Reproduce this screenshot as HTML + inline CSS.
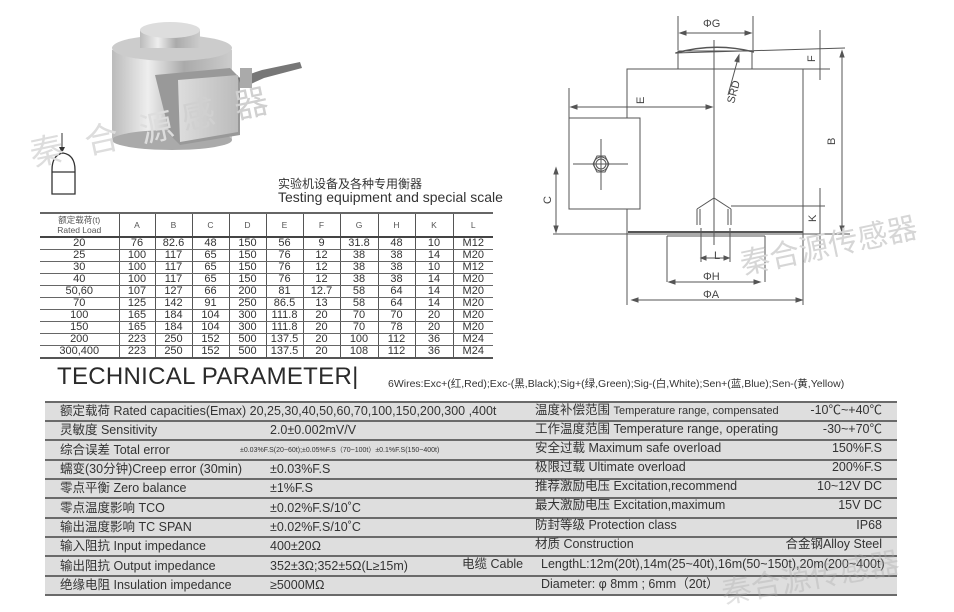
<!DOCTYPE html>
<html><head><meta charset="utf-8"><style>
*{margin:0;padding:0;box-sizing:border-box}
body{width:954px;height:599px;background:#fff;position:relative;overflow:hidden;font-family:"Liberation Sans","Noto Sans CJK SC",sans-serif;color:#333}
.a{position:absolute;white-space:nowrap}
table.d{position:absolute;left:40px;top:212px;width:453px;border-collapse:collapse;font-size:11px;color:#333}
table.d td{border-left:1px solid #555;text-align:center;height:11.8px;line-height:11px;padding:0;border-bottom:1px solid #666}
table.d tr td:first-child{border-left:none}
table.d tr.h td{height:24px;font-size:8.5px;color:#555;border-bottom:2px solid #444;line-height:10px}
table.d{border-top:2px solid #666;border-bottom:2px solid #555}
.pt{position:absolute;left:45px;top:402px;width:852px;height:193px;background:#dedede}
.ln{position:absolute;left:45px;width:852px;height:2px;background:#6a6a6a}
.r{position:absolute;font-size:12.5px;color:#333;white-space:nowrap;line-height:17px;height:17px}
.wm{position:absolute;color:#ddd;font-family:"Noto Sans CJK SC",sans-serif;white-space:nowrap;line-height:1}
</style></head><body>

<svg class="a" style="left:0;top:0" width="330" height="200">
<defs>
<linearGradient id="g1" x1="0" x2="1"><stop offset="0" stop-color="#bbb"/><stop offset=".3" stop-color="#eee"/><stop offset=".6" stop-color="#aaa"/><stop offset="1" stop-color="#ccc"/></linearGradient>
<linearGradient id="g2" x1="0" x2="1"><stop offset="0" stop-color="#ddd"/><stop offset="1" stop-color="#bbb"/></linearGradient>
</defs>
<rect x="112" y="50" width="120" height="90" fill="url(#g1)"/>
<ellipse cx="172" cy="140" rx="60" ry="10" fill="#aaa"/>
<ellipse cx="172" cy="48" rx="60" ry="13" fill="#ccc"/>
<rect x="140" y="30" width="60" height="18" fill="url(#g1)"/>
<ellipse cx="170" cy="30" rx="30" ry="8" fill="#ddd"/>
<path d="M155 75 L230 68 L240 78 L240 135 L180 145 L170 135Z" fill="#999"/>
<path d="M178 80 L238 75 L238 132 L180 142Z" fill="url(#g2)"/>
<path d="M238 78 L262 70 L300 62 L302 68 L264 78 L242 88Z" fill="#777"/>
<rect x="240" y="68" width="12" height="20" fill="#aaa"/>
<path d="M62 133 L62 150" stroke="#333"/><path d="M59 147 L62 153 L65 147Z" fill="#333"/>
<path d="M52 194 L52 170 Q52 155 63 153 Q75 155 75 170 L75 194Z" fill="none" stroke="#333" stroke-width="1.3"/>
<line x1="52" y1="172" x2="75" y2="172" stroke="#333" stroke-width="1.3"/>
</svg>

<div class="wm" style="left:28px;top:118px;font-size:34px;transform:rotate(-12deg);letter-spacing:22px">秦合源</div>
<div class="wm" style="left:180px;top:88px;font-size:34px;transform:rotate(-12deg);letter-spacing:20px;color:#d0d0d0">感器</div>

<div class="a" style="left:278px;top:177px;font-size:12px;line-height:13px;color:#333;font-family:'Noto Sans CJK SC',sans-serif">实验机设备及各种专用衡器</div>
<div class="a" style="left:278px;top:190px;font-size:14px;line-height:14px;color:#333">Testing equipment and special scale</div>

<table class="d">
<colgroup><col style="width:79px"><col style="width:36px"><col style="width:37px"><col style="width:37px"><col style="width:37px"><col style="width:37px"><col style="width:37px"><col style="width:38px"><col style="width:37px"><col style="width:38px"><col style="width:40px"></colgroup>
<tr class="h"><td>额定载荷(t)<br>Rated Load</td><td>A</td><td>B</td><td>C</td><td>D</td><td>E</td><td>F</td><td>G</td><td>H</td><td>K</td><td>L</td></tr>
<tr><td>20</td><td>76</td><td>82.6</td><td>48</td><td>150</td><td>56</td><td>9</td><td>31.8</td><td>48</td><td>10</td><td>M12</td></tr>
<tr><td>25</td><td>100</td><td>117</td><td>65</td><td>150</td><td>76</td><td>12</td><td>38</td><td>38</td><td>14</td><td>M20</td></tr>
<tr><td>30</td><td>100</td><td>117</td><td>65</td><td>150</td><td>76</td><td>12</td><td>38</td><td>38</td><td>10</td><td>M12</td></tr>
<tr><td>40</td><td>100</td><td>117</td><td>65</td><td>150</td><td>76</td><td>12</td><td>38</td><td>38</td><td>14</td><td>M20</td></tr>
<tr><td>50,60</td><td>107</td><td>127</td><td>66</td><td>200</td><td>81</td><td>12.7</td><td>58</td><td>64</td><td>14</td><td>M20</td></tr>
<tr><td>70</td><td>125</td><td>142</td><td>91</td><td>250</td><td>86.5</td><td>13</td><td>58</td><td>64</td><td>14</td><td>M20</td></tr>
<tr><td>100</td><td>165</td><td>184</td><td>104</td><td>300</td><td>111.8</td><td>20</td><td>70</td><td>70</td><td>20</td><td>M20</td></tr>
<tr><td>150</td><td>165</td><td>184</td><td>104</td><td>300</td><td>111.8</td><td>20</td><td>70</td><td>78</td><td>20</td><td>M20</td></tr>
<tr><td>200</td><td>223</td><td>250</td><td>152</td><td>500</td><td>137.5</td><td>20</td><td>100</td><td>112</td><td>36</td><td>M24</td></tr>
<tr><td>300,400</td><td>223</td><td>250</td><td>152</td><td>500</td><td>137.5</td><td>20</td><td>108</td><td>112</td><td>36</td><td>M24</td></tr>
</table>

<svg class="a" style="left:520px;top:0" width="434" height="320" fill="none" stroke="#555" stroke-width="1">
<g font-family="Liberation Sans" font-size="11" fill="#444" stroke="none">
<text x="183" y="27">ΦG</text>
<text x="183" y="280">ΦH</text>
<text x="183" y="298">ΦA</text>
<text x="194" y="259">L</text>
<text transform="translate(124,104) rotate(-90)">E</text>
<text transform="translate(295,62) rotate(-90)">F</text>
<text transform="translate(315,145) rotate(-90)">B</text>
<text transform="translate(296,222) rotate(-90)">K</text>
<text transform="translate(31,204) rotate(-90)">C</text>
<text transform="translate(214,104) rotate(-75)">SRD</text>
</g>
<line x1="158" y1="16" x2="158" y2="50"/><line x1="233" y1="16" x2="233" y2="50"/>
<line x1="160" y1="33" x2="231" y2="33"/>
<path d="M160 33l6-2v4zM231 33l-6-2v4z" fill="#555"/>
<rect x="158" y="51" width="74" height="18"/>
<path d="M156 53 Q195 42 234 52" stroke-width="1.5"/>
<line x1="155" y1="53" x2="325" y2="48"/>
<rect x="107" y="69" width="176" height="165"/>
<line x1="194" y1="40" x2="194" y2="245"/>
<line x1="208" y1="95" x2="219" y2="55"/><path d="M219 55l-4 6 4 1z" fill="#555"/>
<line x1="49" y1="88" x2="49" y2="118"/>
<line x1="51" y1="107" x2="192" y2="107"/>
<path d="M51 107l6-2v4zM192 107l-6-2v4z" fill="#555"/>
<rect x="49" y="118" width="71" height="91" fill="#fff"/>
<polygon points="73,164 77,156 85,156 89,164 85,172 77,172"/>
<circle cx="81" cy="164" r="7"/><circle cx="81" cy="164" r="5"/>
<line x1="53" y1="164" x2="108" y2="164"/><line x1="81" y1="139" x2="81" y2="190"/>
<line x1="36" y1="168" x2="36" y2="232"/>
<path d="M36 168l-2 6h4zM36 232l-2-6h4z" fill="#555"/>
<line x1="33" y1="234" x2="330" y2="234"/>
<line x1="108" y1="232" x2="283" y2="232" stroke-width="2"/>
<line x1="147" y1="236" x2="245" y2="236"/>
<line x1="147" y1="236" x2="147" y2="282"/><line x1="245" y1="236" x2="245" y2="282"/>
<line x1="149" y1="282" x2="240" y2="282"/><path d="M149 282l6-2v4zM240 282l-6-2v4z" fill="#555"/>
<line x1="107" y1="234" x2="107" y2="305"/><line x1="283" y1="234" x2="283" y2="305"/>
<line x1="112" y1="300" x2="282" y2="300"/><path d="M112 300l6-2v4zM282 300l-6-2v4z" fill="#555"/>
<path d="M177 209 L194 198 L211 209"/>
<line x1="177" y1="209" x2="177" y2="225"/><line x1="180" y1="209" x2="180" y2="225"/>
<line x1="208" y1="209" x2="208" y2="225"/><line x1="211" y1="209" x2="211" y2="225"/>
<line x1="181" y1="228" x2="181" y2="262"/><line x1="210" y1="228" x2="210" y2="262"/>
<line x1="181" y1="258" x2="209" y2="258"/><path d="M181 258l5-2v4zM209 258l-5-2v4z" fill="#555"/>
<line x1="211" y1="206" x2="305" y2="206"/>
<line x1="283" y1="69" x2="310" y2="69"/>
<line x1="300" y1="30" x2="300" y2="80"/>
<line x1="300" y1="188" x2="300" y2="248"/>
<line x1="322" y1="51" x2="322" y2="232"/>
<path d="M322 51l-2 6h4zM322 232l-2-6h4z" fill="#555"/>
</svg>
<div class="wm" style="left:738px;top:228px;font-size:30px;transform:rotate(-12deg);color:#d6d6d6">秦合源传感器</div>

<div class="a" style="left:57px;top:364px;font-size:24px;line-height:26px;color:#2a2a2a;letter-spacing:0.3px">TECHNICAL PARAMETER|</div>
<div class="a" style="left:388px;top:378px;font-size:10.5px;line-height:12px;color:#333">6Wires:Exc+(红,Red);Exc-(黑,Black);Sig+(绿,Green);Sig-(白,White);Sen+(蓝,Blue);Sen-(黄,Yellow)</div>

<div class="pt"></div>
<div class="ln" style="top:401px"></div><div class="ln" style="top:420px"></div><div class="ln" style="top:439px"></div><div class="ln" style="top:459px"></div><div class="ln" style="top:478px"></div><div class="ln" style="top:497px"></div><div class="ln" style="top:517px"></div><div class="ln" style="top:536px"></div><div class="ln" style="top:555px"></div><div class="ln" style="top:575px"></div><div class="ln" style="top:594px"></div>

<div class="r" style="left:60px;top:403px">额定载荷 Rated capacities(Emax) 20,25,30,40,50,60,70,100,150,200,300 ,400t</div>
<div class="r" style="left:60px;top:422px">灵敏度 Sensitivity</div><div class="r" style="left:270px;top:422px">2.0±0.002mV/V</div>
<div class="r" style="left:60px;top:442px">综合误差 Total error</div><div class="r" style="left:240px;top:442px;font-size:7px">±0.03%F.S(20~60t);±0.05%F.S（70~100t）±0.1%F.S(150~400t)</div>
<div class="r" style="left:60px;top:461px">蠕变(30分钟)Creep error (30min)</div><div class="r" style="left:270px;top:461px">±0.03%F.S</div>
<div class="r" style="left:60px;top:480px">零点平衡 Zero balance</div><div class="r" style="left:270px;top:480px">±1%F.S</div>
<div class="r" style="left:60px;top:500px">零点温度影响 TCO</div><div class="r" style="left:270px;top:500px">±0.02%F.S/10˚C</div>
<div class="r" style="left:60px;top:519px">输出温度影响 TC SPAN</div><div class="r" style="left:270px;top:519px">±0.02%F.S/10˚C</div>
<div class="r" style="left:60px;top:538px">输入阻抗 Input  impedance</div><div class="r" style="left:270px;top:538px">400±20Ω</div>
<div class="r" style="left:60px;top:558px">输出阻抗 Output  impedance</div><div class="r" style="left:270px;top:558px">352±3Ω;352±5Ω(L≥15m)</div><div class="r" style="left:462px;top:556px">电缆 Cable</div>
<div class="r" style="left:60px;top:577px">绝缘电阻 Insulation impedance</div><div class="r" style="left:270px;top:577px">≥5000MΩ</div>

<div class="r" style="left:535px;top:402px">温度补偿范围 <span style="font-size:11px">Temperature range, compensated</span></div><div class="r" style="right:72px;top:402px">-10℃~+40℃</div>
<div class="r" style="left:535px;top:421px">工作温度范围 Temperature range, operating</div><div class="r" style="right:72px;top:421px">-30~+70℃</div>
<div class="r" style="left:535px;top:440px">安全过载  Maximum safe overload</div><div class="r" style="right:72px;top:440px">150%F.S</div>
<div class="r" style="left:535px;top:459px">极限过载  Ultimate overload</div><div class="r" style="right:72px;top:459px">200%F.S</div>
<div class="r" style="left:535px;top:478px">推荐激励电压 Excitation,recommend</div><div class="r" style="right:72px;top:478px">10~12V DC</div>
<div class="r" style="left:535px;top:497px">最大激励电压 Excitation,maximum</div><div class="r" style="right:72px;top:497px">15V DC</div>
<div class="r" style="left:535px;top:517px">防封等级  Protection class</div><div class="r" style="right:72px;top:517px">IP68</div>
<div class="r" style="left:535px;top:536px">材质  Construction</div><div class="r" style="right:72px;top:536px">合金钢Alloy Steel</div>
<div class="r" style="left:541px;top:556px">LengthL:12m(20t),14m(25~40t),16m(50~150t),20m(200~400t)</div>
<div class="r" style="left:541px;top:576px">Diameter: φ 8mm ; 6mm（20t）</div>
<div class="wm" style="left:720px;top:560px;font-size:30px;transform:rotate(-10deg);color:rgba(170,170,170,0.35)">秦合源传感器</div>
</body></html>
